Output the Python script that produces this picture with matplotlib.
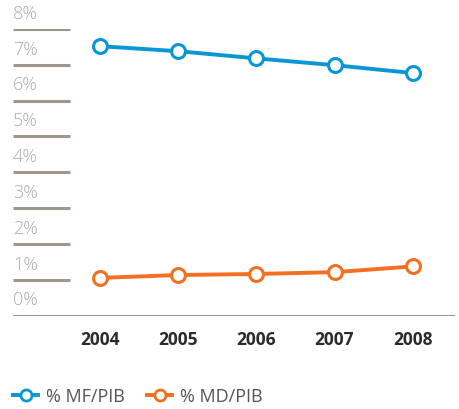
import matplotlib
matplotlib.use("Agg")
import matplotlib.pyplot as plt
from matplotlib.lines import Line2D

# data
years = [2004, 2005, 2006, 2007, 2008]
mf_pib = [7.52, 7.38, 7.18, 6.99, 6.77]
md_pib = [1.05, 1.13, 1.16, 1.21, 1.37]
y_ticks = [0, 1, 2, 3, 4, 5, 6, 7, 8]
series_names = ["% MF/PIB", "% MD/PIB"]

blue = "#0a96d4"
orange = "#f36f21"
grid_col = "#9e958b"

W, H = 460, 410
fig = plt.figure(figsize=(W / 100, H / 100), dpi=100)
left, right, bottom, top = 13, 455, 316.5, 30
ax = fig.add_axes([left / W, 1 - bottom / H, (right - left) / W, (bottom - top) / H])

ax.set_xlim(years[0] - 1.11, years[-1] + 0.54)
ax.set_ylim(0, 8)

# short grey stubs under each y label, full width baseline at 0
x0 = ax.get_xlim()[0]
stub = (70 - left) / 78.3
for t in y_ticks:
    if t == 0:
        ax.axhline(0, color=grid_col, lw=2.2, zorder=1)
    else:
        ax.plot([x0, x0 + stub], [t, t], color=grid_col, lw=2.2, zorder=1,
                solid_capstyle="butt")
    ax.text(x0, t + 0.2, f"{t}%", ha="left", va="bottom", fontsize=13,
            color="#ababab", family="Open Sans", fontweight="light")

mk = dict(marker="o", markersize=10, markerfacecolor="white", markeredgewidth=2.2)
ax.plot(years, mf_pib, color=blue, lw=2.8, markeredgecolor=blue, zorder=3, **mk)
ax.plot(years, md_pib, color=orange, lw=2.8, markeredgecolor=orange, zorder=3, **mk)

for y in years:
    ax.text(y, -0.65, str(y), ha="center", va="center", fontsize=12.5,
            fontweight="bold", color="#2b2b2b", family="Open Sans")

ax.axis("off")

handles = [
    Line2D([], [], color=blue, lw=2.8, marker="o", markersize=8,
           markerfacecolor="white", markeredgecolor=blue, markeredgewidth=2),
    Line2D([], [], color=orange, lw=2.8, marker="o", markersize=8,
           markerfacecolor="white", markeredgecolor=orange, markeredgewidth=2),
]
leg = fig.legend(handles, series_names, loc="center left",
                 bbox_to_anchor=(13 / W, 1 - 397 / H), ncol=2, frameon=False,
                 borderpad=0, borderaxespad=0,
                 handlelength=1.4, handletextpad=0.45, columnspacing=1.2,
                 prop={"family": "Open Sans", "size": 13})
for t in leg.get_texts():
    t.set_color("#555555")

fig.savefig("out.png", dpi=100)
